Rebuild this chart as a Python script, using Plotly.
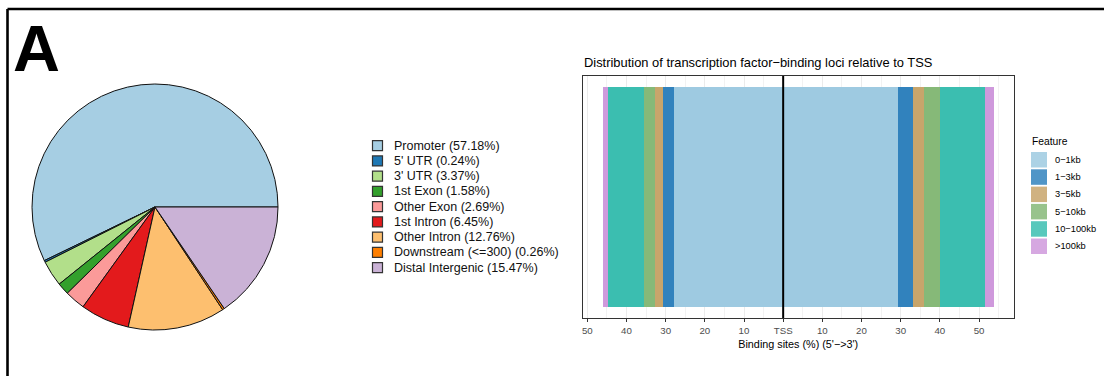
import plotly.graph_objects as go

W, H = 1104, 376

# Genomic annotation of binding peaks (percent of peaks)
anno_features = ["Promoter", "5' UTR", "3' UTR", "1st Exon", "Other Exon",
                 "1st Intron", "Other Intron", "Downstream (<=300)", "Distal Intergenic"]
anno_percent = [57.18, 0.24, 3.37, 1.58, 2.69, 6.45, 12.76, 0.26, 15.47]
anno_colors = ["#A6CEE3", "#1F78B4", "#B2DF8A", "#33A02C", "#FB9A99",
               "#E31A1C", "#FDBF6F", "#FF7F00", "#CAB2D6"]

# Distance of binding loci to the TSS (percent of sites on each side)
tss_bins = ["0-1kb", "1-3kb", "3-5kb", "5-10kb", "10-100kb", ">100kb"]
upstream_pct = [27.8, 2.9, 1.9, 2.9, 9.2, 1.4]
downstream_pct = [29.3, 3.8, 2.8, 4.15, 11.5, 2.3]
tss_colors = ["#9ECAE1", "#3182BD", "#C8A56B", "#86B978", "#3BBEB0", "#CF99DC"]

tick_vals = [-50, -40, -30, -20, -10, 0, 10, 20, 30, 40, 50]
tick_text = ["50", "40", "30", "20", "10", "TSS", "10", "20", "30", "40", "50"]
minor_vals = [-45, -35, -25, -15, -5, 5, 15, 25, 35, 45, 55]

FONT = "Liberation Sans, Arial, Helvetica, sans-serif"


def px(x):
    return x / W


def py(y):
    return 1 - y / H


fig = go.Figure()

# Pie of genomic annotation: first slice begins at 3 o'clock, running counterclockwise
first_share = anno_percent[0] / sum(anno_percent)
fig.add_trace(go.Pie(
    labels=anno_features,
    values=anno_percent,
    marker=dict(colors=anno_colors, line=dict(color="#111111", width=1)),
    sort=False,
    direction="counterclockwise",
    rotation=90 - 360 * first_share,
    textinfo="none",
    hoverinfo="label+percent",
    showlegend=False,
    domain=dict(x=[px(32), px(278)], y=[py(330), py(84)]),
))

# Stacked distance-to-TSS bar, upstream drawn to the left (negative)
for name, up, down, col in zip(tss_bins, upstream_pct, downstream_pct, tss_colors):
    for val in (-up, down):
        fig.add_trace(go.Bar(
            x=[val], y=[0], orientation="h", width=0.91,
            marker=dict(color=col, line=dict(width=0)),
            name=name, showlegend=False,
            xaxis="x", yaxis="y",
        ))

shapes = []
annotations = []

# Outer figure frame (top and left edges)
shapes.append(dict(type="line", xref="paper", yref="paper",
                   x0=px(7.5), x1=px(W + 5), y0=py(9), y1=py(9),
                   line=dict(color="black", width=2.6)))
shapes.append(dict(type="line", xref="paper", yref="paper",
                   x0=px(7.5), x1=px(7.5), y0=py(9), y1=py(H + 5),
                   line=dict(color="black", width=2.6)))

# TSS marker line
shapes.append(dict(type="line", xref="x", yref="y domain",
                   x0=0, x1=0, y0=0, y1=1, layer="above",
                   line=dict(color="black", width=2)))

# Panel letter
annotations.append(dict(text="<b>A</b>", xref="paper", yref="paper",
                        x=px(11), y=py(10), xanchor="left", yanchor="top",
                        showarrow=False,
                        font=dict(family=FONT, size=65, color="black")))

# Pie legend
leg_x, leg_y0, leg_dy = 377.5, 145.7, 15.25
for i, (name, pct, col) in enumerate(zip(anno_features, anno_percent, anno_colors)):
    cy = leg_y0 + i * leg_dy
    shapes.append(dict(type="rect", xref="paper", yref="paper",
                       x0=px(leg_x - 5), x1=px(leg_x + 5),
                       y0=py(cy + 5), y1=py(cy - 5),
                       fillcolor=col, line=dict(color="#333333", width=1.2)))
    annotations.append(dict(text=f"{name} ({pct:.2f}%)", xref="paper", yref="paper",
                            x=px(392), y=py(cy), xanchor="left", yanchor="middle",
                            showarrow=False,
                            font=dict(family=FONT, size=12.5, color="#111111")))

# Bar chart title
annotations.append(dict(text="Distribution of transcription factor\u2212binding loci relative to TSS",
                        xref="paper", yref="paper", x=px(582), y=py(62.5),
                        xanchor="left", yanchor="middle", showarrow=False,
                        font=dict(family=FONT, size=12.9, color="black")))

# Feature legend
annotations.append(dict(text="Feature", xref="paper", yref="paper",
                        x=px(1029.5), y=py(141), xanchor="left", yanchor="middle",
                        showarrow=False, font=dict(family=FONT, size=10.3, color="black")))
key_y0, key_dy = 152, 17.3
for i, (name, col) in enumerate(zip(tss_bins, tss_colors)):
    top = key_y0 + i * key_dy
    shapes.append(dict(type="rect", xref="paper", yref="paper",
                       x0=px(1031), x1=px(1047), y0=py(top + 15.5), y1=py(top),
                       fillcolor=col, opacity=0.85, line=dict(width=0)))
    annotations.append(dict(text=name.replace("-", "\u2212"), xref="paper", yref="paper",
                            x=px(1052.5), y=py(top + 7.8), xanchor="left", yanchor="middle",
                            showarrow=False,
                            font=dict(family=FONT, size=9.3, color="black")))

fig.update_layout(
    width=W, height=H,
    margin=dict(l=0, r=0, t=0, b=0),
    paper_bgcolor="white",
    plot_bgcolor="white",
    barmode="relative",
    bargap=0,
    showlegend=False,
    font=dict(family=FONT),
    shapes=shapes,
    annotations=annotations,
    xaxis=dict(
        domain=[px(583), px(1013.5)],
        range=[-51.1, 58.8],
        tickmode="array", tickvals=tick_vals, ticktext=tick_text,
        ticks="outside", ticklen=3, tickwidth=1, tickcolor="#333333",
        tickfont=dict(family=FONT, size=9.7, color="#4D4D4D"),
        showgrid=True, gridcolor="#EBEBEB", gridwidth=1,
        minor=dict(tickvals=minor_vals, showgrid=True, gridcolor="#F2F2F2",
                   gridwidth=0.6, ticks=""),
        zeroline=False,
        showline=True, linecolor="#333333", linewidth=1, mirror=True,
        title=dict(text="Binding sites (%) (5'\u2212>3')", standoff=5,
                   font=dict(family=FONT, size=10.8, color="black")),
        automargin=False,
        fixedrange=True,
    ),
    yaxis=dict(
        domain=[py(318), py(76)],
        range=[-0.5, 0.5],
        showticklabels=False, ticks="",
        showgrid=False, zeroline=False,
        showline=True, linecolor="#333333", linewidth=1, mirror=True,
        automargin=False,
        fixedrange=True,
    ),
)

fig.write_html("out.html")
